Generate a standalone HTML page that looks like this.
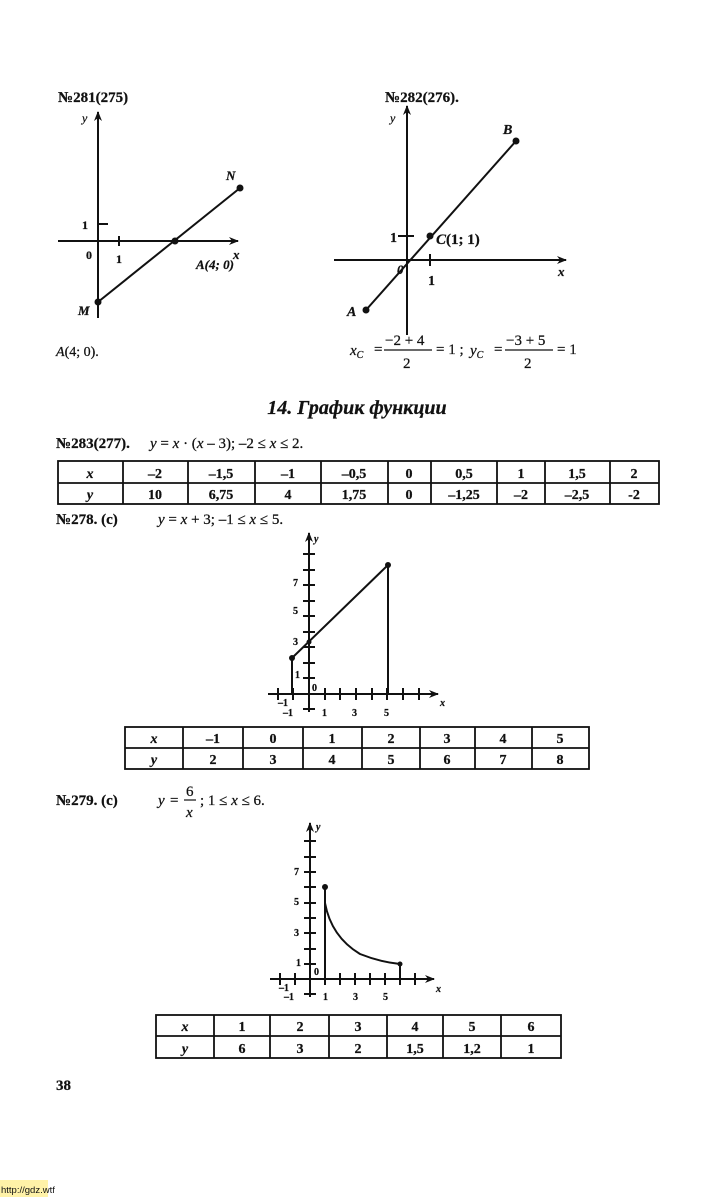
<!DOCTYPE html>
<html><head><meta charset="utf-8"><style>
html,body{margin:0;padding:0;background:#fff;width:715px;height:1197px;overflow:hidden}
svg{display:block}
text{font-family:"Liberation Serif",serif;fill:#111;stroke:#111;stroke-width:0.25}
.b{font-weight:bold}
.i{font-style:italic}
.t text{font-weight:bold}
</style></head><body>
<svg width="715" height="1197" viewBox="0 0 715 1197" xmlns="http://www.w3.org/2000/svg">
<defs>
<marker id="ar" markerWidth="10" markerHeight="8" refX="9" refY="4" orient="auto" markerUnits="userSpaceOnUse">
<path d="M0,0 L10,4 L0,8 L3,4 Z" fill="#111"/></marker>
</defs>
<g stroke="#111" stroke-width="2" fill="none">
<line x1="98" y1="318" x2="98" y2="112" marker-end="url(#ar)"/>
<line x1="58" y1="241" x2="238" y2="241" marker-end="url(#ar)"/>
<line x1="98" y1="224" x2="108" y2="224"/>
<line x1="119" y1="236" x2="119" y2="246"/>
<line x1="98" y1="302" x2="240" y2="188"/>
<line x1="407" y1="335" x2="407" y2="106" marker-end="url(#ar)"/>
<line x1="334" y1="260" x2="566" y2="260" marker-end="url(#ar)"/>
<line x1="398" y1="236" x2="414" y2="236"/>
<line x1="430" y1="254" x2="430" y2="266"/>
<line x1="366" y1="310" x2="516" y2="141"/>
</g>
<g fill="#111">
<circle cx="98" cy="302" r="3.5"/><circle cx="240" cy="188" r="3.5"/><circle cx="175" cy="241" r="3.5"/>
<circle cx="366" cy="310" r="3.5"/><circle cx="516" cy="141" r="3.5"/><circle cx="430" cy="236" r="3.5"/>
</g>
<text x="58" y="102" class="b" font-size="15">№281(275)</text>
<text x="82" y="122" class="i" font-size="12">y</text>
<text x="82" y="229" class="b" font-size="12">1</text>
<text x="86" y="259" class="b" font-size="12">0</text>
<text x="116" y="263" class="b" font-size="12">1</text>
<text x="196" y="269" class="b i" font-size="13">A(4; 0)</text>
<text x="233" y="259" class="b i" font-size="13">x</text>
<text x="226" y="180" class="b i" font-size="13">N</text>
<text x="78" y="315" class="b i" font-size="13">M</text>
<text x="56" y="356" font-size="14"><tspan class="i">A</tspan>(4; 0).</text>

<text x="385" y="102" class="b" font-size="15">№282(276).</text>
<text x="390" y="122" class="i" font-size="12">y</text>
<text x="390" y="242" class="b" font-size="14">1</text>
<text x="397" y="274" class="b i" font-size="13">0</text>
<text x="428" y="285" class="b" font-size="14">1</text>
<text x="436" y="244" class="b" font-size="15"><tspan class="i">C</tspan>(1; 1)</text>
<text x="558" y="276" class="b i" font-size="13">x</text>
<text x="503" y="134" class="b i" font-size="14">B</text>
<text x="347" y="316" class="b i" font-size="14">A</text>
<g font-size="15">
<text x="350" y="355" class="i">x<tspan font-size="10" dy="3">C</tspan></text>
<text x="374" y="354">=</text>
<text x="385" y="345">−2 + 4</text>
<line x1="384" y1="350" x2="432" y2="350" stroke="#111" stroke-width="1.2"/>
<text x="403" y="368">2</text>
<text x="436" y="354">= 1 ;</text>
<text x="470" y="355" class="i">y<tspan font-size="10" dy="3">C</tspan></text>
<text x="494" y="354">=</text>
<text x="506" y="345">−3 + 5</text>
<line x1="505" y1="350" x2="553" y2="350" stroke="#111" stroke-width="1.2"/>
<text x="524" y="368">2</text>
<text x="557" y="354">= 1</text>
</g>

<text x="357" y="414" class="b i" font-size="20" text-anchor="middle">14. График функции</text>

<text x="56" y="448" class="b" font-size="15">№283(277).</text>
<text x="150" y="448" font-size="15"><tspan class="i">y</tspan> = <tspan class="i">x</tspan> · (<tspan class="i">x</tspan> – 3); –2 ≤ <tspan class="i">x</tspan> ≤ 2.</text>

<g stroke="#111" stroke-width="1.8" fill="none">
<rect x="58" y="461" width="601" height="43"/>
<line x1="58" y1="483" x2="659" y2="483"/>
<path d="M123,461V504M188,461V504M255,461V504M321,461V504M388,461V504M431,461V504M497,461V504M545,461V504M610,461V504"/>
</g>
<g font-size="14" text-anchor="middle" class="t">
<text x="90" y="478" class="i">x</text><text x="155" y="478">–2</text><text x="221" y="478">–1,5</text><text x="288" y="478">–1</text><text x="354" y="478">–0,5</text><text x="409" y="478">0</text><text x="464" y="478">0,5</text><text x="521" y="478">1</text><text x="577" y="478">1,5</text><text x="634" y="478">2</text>
<text x="90" y="499" class="i">y</text><text x="155" y="499">10</text><text x="221" y="499">6,75</text><text x="288" y="499">4</text><text x="354" y="499">1,75</text><text x="409" y="499">0</text><text x="464" y="499">–1,25</text><text x="521" y="499">–2</text><text x="577" y="499">–2,5</text><text x="634" y="499">-2</text>
</g>

<text x="56" y="524" class="b" font-size="15">№278. (c)</text>
<text x="158" y="524" font-size="15"><tspan class="i">y</tspan> = <tspan class="i">x</tspan> + 3; –1 ≤ <tspan class="i">x</tspan> ≤ 5.</text>

<g stroke="#111" stroke-width="2" fill="none">
<line x1="309" y1="712" x2="309" y2="533" marker-end="url(#ar)"/>
<line x1="268" y1="694" x2="438" y2="694" marker-end="url(#ar)"/>
<path d="M303,678H315M303,663H315M303,647H315M303,632H315M303,616H315M303,601H315M303,585H315M303,570H315M303,554H315M303,709H315"/>
<path d="M278,688V700M293,688V700M325,688V700M340,688V700M356,688V700M372,688V700M387,688V700M403,688V700M419,688V700"/>
<line x1="292" y1="694" x2="292" y2="658"/>
<line x1="292" y1="658" x2="388" y2="565"/>
<line x1="388" y1="565" x2="388" y2="694"/>
</g>
<circle cx="292" cy="658" r="3" fill="#111"/><circle cx="388" cy="565" r="3" fill="#111"/><circle cx="309" cy="642" r="2.5" fill="#111"/>
<g font-size="10" class="b">
<text x="314" y="542" class="i">y</text>
<text x="293" y="586">7</text><text x="293" y="614">5</text><text x="293" y="645">3</text><text x="295" y="678">1</text>
<text x="312" y="691">0</text><text x="278" y="706">–1</text><text x="283" y="716">–1</text>
<text x="322" y="716">1</text><text x="352" y="716">3</text><text x="384" y="716">5</text>
<text x="440" y="706" class="i">x</text>
</g>

<g stroke="#111" stroke-width="1.8" fill="none">
<rect x="125" y="727" width="464" height="42"/>
<line x1="125" y1="748" x2="589" y2="748"/>
<path d="M183,727V769M243,727V769M303,727V769M362,727V769M420,727V769M475,727V769M532,727V769"/>
</g>
<g font-size="14" text-anchor="middle" class="t">
<text x="154" y="743" class="i">x</text><text x="213" y="743">–1</text><text x="273" y="743">0</text><text x="332" y="743">1</text><text x="391" y="743">2</text><text x="447" y="743">3</text><text x="503" y="743">4</text><text x="560" y="743">5</text>
<text x="154" y="764" class="i">y</text><text x="213" y="764">2</text><text x="273" y="764">3</text><text x="332" y="764">4</text><text x="391" y="764">5</text><text x="447" y="764">6</text><text x="503" y="764">7</text><text x="560" y="764">8</text>
</g>

<text x="56" y="805" class="b" font-size="15">№279. (c)</text>
<g font-size="15">
<text x="158" y="805" class="i">y</text><text x="170" y="805">=</text>
<text x="186" y="796">6</text>
<line x1="184" y1="800" x2="196" y2="800" stroke="#111" stroke-width="1.2"/>
<text x="186" y="817" class="i">x</text>
<text x="200" y="805">; 1 ≤ <tspan class="i">x</tspan> ≤ 6.</text>
</g>

<g stroke="#111" stroke-width="2" fill="none">
<line x1="310" y1="997" x2="310" y2="823" marker-end="url(#ar)"/>
<line x1="270" y1="979" x2="434" y2="979" marker-end="url(#ar)"/>
<path d="M304,964H316M304,949H316M304,933H316M304,918H316M304,903H316M304,887H316M304,872H316M304,857H316M304,841H316M304,994H316"/>
<path d="M280,973V985M295,973V985M325,973V985M340,973V985M355,973V985M370,973V985M385,973V985M400,973V985M415,973V985"/>
<line x1="325" y1="979" x2="325" y2="887"/>
<path d="M325,887 L325,903 C330,930 345,945 360,954 C375,960 390,963 400,964"/>
<line x1="400" y1="964" x2="400" y2="979"/>
</g>
<circle cx="325" cy="887" r="3" fill="#111"/><circle cx="400" cy="964" r="2.5" fill="#111"/>
<g font-size="10" class="b">
<text x="316" y="830" class="i">y</text>
<text x="294" y="875">7</text><text x="294" y="905">5</text><text x="294" y="936">3</text><text x="296" y="966">1</text>
<text x="314" y="975">0</text><text x="279" y="991">–1</text><text x="284" y="1000">–1</text>
<text x="323" y="1000">1</text><text x="353" y="1000">3</text><text x="383" y="1000">5</text>
<text x="436" y="992" class="i">x</text>
</g>

<g stroke="#111" stroke-width="1.8" fill="none">
<rect x="156" y="1015" width="405" height="43"/>
<line x1="156" y1="1036" x2="561" y2="1036"/>
<path d="M214,1015V1058M270,1015V1058M329,1015V1058M387,1015V1058M443,1015V1058M501,1015V1058"/>
</g>
<g font-size="14" text-anchor="middle" class="t">
<text x="185" y="1031" class="i">x</text><text x="242" y="1031">1</text><text x="300" y="1031">2</text><text x="358" y="1031">3</text><text x="415" y="1031">4</text><text x="472" y="1031">5</text><text x="531" y="1031">6</text>
<text x="185" y="1053" class="i">y</text><text x="242" y="1053">6</text><text x="300" y="1053">3</text><text x="358" y="1053">2</text><text x="415" y="1053">1,5</text><text x="472" y="1053">1,2</text><text x="531" y="1053">1</text>
</g>

<text x="56" y="1090" class="b" font-size="15">38</text>
<rect x="0" y="1180" width="48" height="17" fill="#fff2a8"/>
<text x="1" y="1193" font-size="9.5" style="font-family:'Liberation Sans',sans-serif;stroke:none">http://gdz.wtf</text>
</svg>
</body></html>
